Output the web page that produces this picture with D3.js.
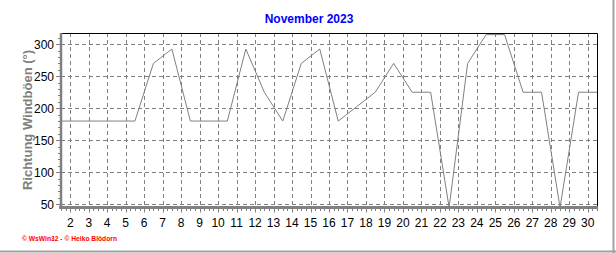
<!DOCTYPE html>
<html>
<head>
<meta charset="utf-8">
<script src="https://cdn.jsdelivr.net/npm/d3@7"></script>
<style>
  body { margin: 0; background: #fff; }
  svg { display: block; }
  text { font-family: "Liberation Sans", Arial, sans-serif; }
</style>
</head>
<body>
<div id="chart"></div>
<script>
var w = 616,
  h = 253;

// daily direction of the wind gusts, one value per day of November
var days = [1, 2, 3, 4, 5, 6, 7, 8, 9, 10, 11, 12, 13, 14, 15, 16, 17, 18, 19, 20, 21, 22, 23, 24, 25, 26, 27, 28, 29, 30];
var gustDir = [180, 180, 180, 180, 180, 270, 292.5, 180, 180, 180, 292.5, 225, 180, 270, 292.5, 180, 202.5, 225, 270, 225, 225, 45, 270, 315, 315, 225, 225, 45, 225, 225];
var yTicks = [50, 100, 150, 200, 250, 300];
var xTicks = [2, 3, 4, 5, 6, 7, 8, 9, 10, 11, 12, 13, 14, 15, 16, 17, 18, 19, 20, 21, 22, 23, 24, 25, 26, 27, 28, 29, 30];

// note: "top" is taken by window.top, so use other names
var pLeft = 61, pRight = 597, pTop = 33, pBottom = 207.5;

var vis = d3.select("#chart").append("svg").attr("width", w).attr("height", h);

var x = d3.scaleLinear().domain([1.5, 30.5]).range([pLeft, pRight]);
var y = d3.scaleLinear().domain([45, 317.5]).range([pBottom, pTop]);

// outer frame (right + bottom)
vis.append("line").attr("x1", w - 2.5).attr("x2", w - 2.5).attr("y1", 0).attr("y2", h)
  .attr("stroke", "#a0a0a0").attr("stroke-width", 2);
vis.append("line").attr("x1", 0).attr("x2", w).attr("y1", h - 1.5).attr("y2", h - 1.5)
  .attr("stroke", "#a0a0a0").attr("stroke-width", 2);

// grid
vis.selectAll(".hgrid").data(yTicks).enter().append("line")
  .attr("x1", pLeft).attr("x2", pRight)
  .attr("y1", function(d) { return Math.round(y(d)) + 0.5; })
  .attr("y2", function(d) { return Math.round(y(d)) + 0.5; })
  .attr("stroke", "#808080").attr("stroke-dasharray", "4,3");
vis.selectAll(".vgrid").data(xTicks).enter().append("line")
  .attr("x1", function(d) { return Math.round(x(d)) + 0.5; })
  .attr("x2", function(d) { return Math.round(x(d)) + 0.5; })
  .attr("y1", pTop).attr("y2", pBottom)
  .attr("stroke", "#808080").attr("stroke-dasharray", "4,3");

// top and right border
vis.append("path")
  .attr("d", "M" + pLeft + "," + (pTop + 0.5) + "H" + (pRight + 0.5) + "V" + pBottom)
  .attr("fill", "none").attr("stroke", "#000");

// data line
var line = d3.line()
  .x(function(d, i) { return x(days[i] + 0.5); })
  .y(function(d) { return y(d); });
vis.append("path").datum(gustDir)
  .attr("d", line)
  .attr("fill", "none").attr("stroke", "#808080").attr("stroke-width", 1);

// y axis with minor ticks
var yMinor = d3.range(50, 311, 10);
vis.selectAll(".ytick").data(yMinor).enter().append("line")
  .attr("x1", function(d) { return d % 50 == 0 ? pLeft - 5 : pLeft - 3; })
  .attr("x2", pLeft)
  .attr("y1", function(d) { return Math.round(y(d)) + 0.5; })
  .attr("y2", function(d) { return Math.round(y(d)) + 0.5; })
  .attr("stroke", "#808080");
vis.selectAll(".ylabel").data(yTicks).enter().append("text")
  .attr("x", pLeft - 7).attr("y", function(d) { return y(d) + 4.5; })
  .attr("text-anchor", "end").attr("font-size", 12).attr("fill", "#000")
  .text(function(d) { return d; });

// x axis with minor ticks (quarter days)
var xMinor = d3.range(1.5, 30.51, 0.25);
vis.selectAll(".xtick").data(xMinor).enter().append("line")
  .attr("x1", function(d) { return Math.round(x(d)) + 0.5; })
  .attr("x2", function(d) { return Math.round(x(d)) + 0.5; })
  .attr("y1", pBottom)
  .attr("y2", function(d) { return d % 1 == 0 ? pBottom + 5 : pBottom + 3.5; })
  .attr("stroke", "#808080");
vis.selectAll(".xlabel").data(xTicks).enter().append("text")
  .attr("x", function(d) { return x(d); }).attr("y", 227)
  .attr("text-anchor", "middle").attr("font-size", 12).attr("fill", "#000")
  .text(function(d) { return d; });

// axis lines
vis.append("line").attr("x1", pLeft).attr("x2", pLeft).attr("y1", pTop).attr("y2", pBottom + 1.5)
  .attr("stroke", "#808080").attr("stroke-width", 2.5);
vis.append("line").attr("x1", pLeft - 2).attr("x2", pRight + 1).attr("y1", pBottom).attr("y2", pBottom)
  .attr("stroke", "#808080").attr("stroke-width", 3);

// title
vis.append("text").attr("x", 309).attr("y", 23)
  .attr("text-anchor", "middle").attr("font-size", 12).attr("font-weight", "bold")
  .attr("fill", "#0000ff").text("November 2023");

// y axis title
vis.append("text")
  .attr("transform", "translate(32,120) rotate(-90)")
  .attr("text-anchor", "middle").attr("font-size", 13).attr("font-weight", "bold")
  .attr("fill", "#808080").text("Richtung Windböen  (°)");

// footer
vis.append("text").attr("x", 22).attr("y", 241)
  .attr("font-size", 8).attr("font-weight", "bold").attr("fill", "#ff0000")
  .attr("textLength", 95).attr("lengthAdjust", "spacingAndGlyphs")
  .text("© WsWin32  -  © Heiko Blödorn");
</script>
</body>
</html>
